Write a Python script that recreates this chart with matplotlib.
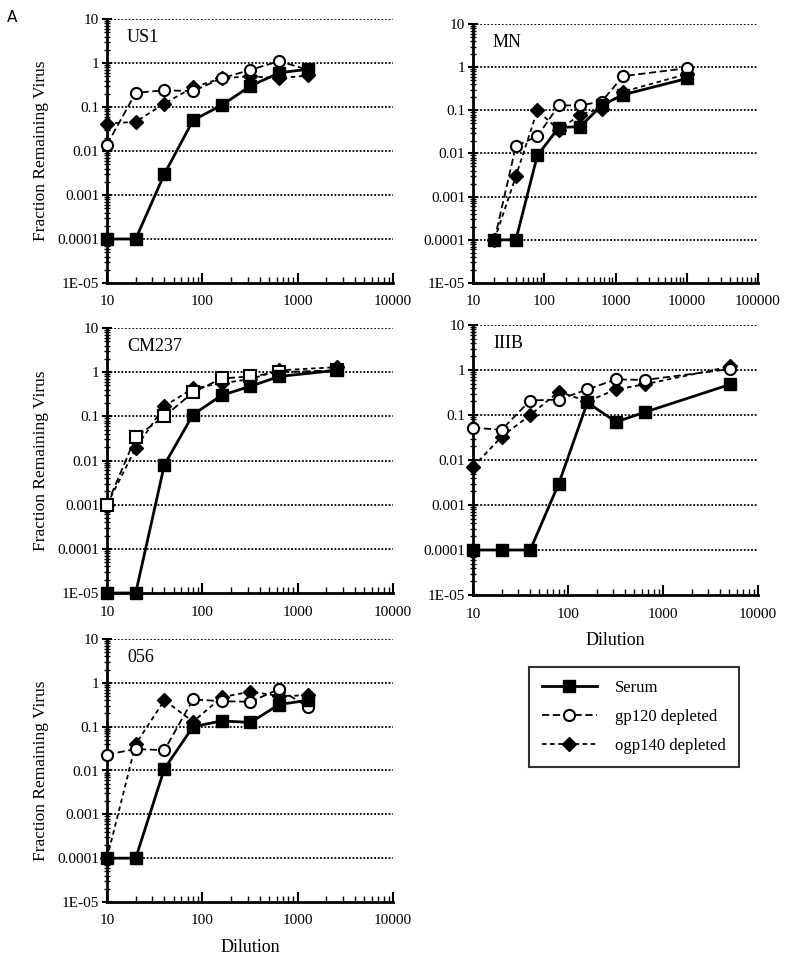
import numpy as np
import matplotlib.pyplot as plt
from matplotlib.ticker import FixedLocator, LogLocator, NullFormatter

plt.rcParams['font.family'] = ['Liberation Serif', 'DejaVu Serif']

# Datos por panel (dilucion, serum, gp120 depleted, ogp140 depleted)
us1_x = [10, 20, 40, 80, 160, 320, 640, 1280]
us1_serum = [1e-4, 1e-4, 0.003, 0.05, 0.11, 0.3, 0.6, 0.72]
us1_gp120 = [0.014, 0.21, 0.24, 0.23, 0.45, 0.7, 1.1, 0.7]
us1_ogp140 = [0.042, 0.046, 0.12, 0.28, 0.45, 0.5, 0.45, 0.52]

mn_x = [20, 40, 80, 160, 320, 640, 1280, 10240]
mn_serum = [1e-4, 1e-4, 0.009, 0.04, 0.042, 0.13, 0.23, 0.55]
mn_gp120 = [1e-4, 0.015, 0.025, 0.13, 0.13, 0.16, 0.62, 0.95]
mn_ogp140 = [1e-4, 0.003, 0.1, 0.035, 0.08, 0.11, 0.27, 0.7]

cm_x = [10, 20, 40, 80, 160, 320, 640, 2560]
cm_serum = [1e-5, 1e-5, 0.008, 0.11, 0.3, 0.48, 0.8, 1.1]
cm_gp120 = [0.001, 0.034, 0.1, 0.35, 0.72, 0.8, 1.0, 1.1]
cm_ogp140 = [0.001, 0.019, 0.17, 0.43, 0.56, 0.7, 1.1, 1.3]

iiib_x = [10, 20, 40, 80, 160, 320, 640, 5120]
iiib_serum = [1e-4, 1e-4, 1e-4, 0.003, 0.19, 0.07, 0.115, 0.48]
iiib_gp120 = [0.052, 0.047, 0.21, 0.22, 0.37, 0.62, 0.6, 1.05]
iiib_ogp140 = [0.007, 0.033, 0.1, 0.33, 0.2, 0.37, 0.48, 1.2]

s056_x = [10, 20, 40, 80, 160, 320, 640, 1280]
s056_serum = [1e-4, 1e-4, 0.011, 0.1, 0.135, 0.125, 0.32, 0.4]
s056_gp120 = [0.023, 0.031, 0.029, 0.42, 0.38, 0.37, 0.72, 0.28]
s056_ogp140 = [1e-4, 0.04, 0.4, 0.13, 0.47, 0.63, 0.5, 0.52]

y_ticks = [1e-5, 1e-4, 1e-3, 1e-2, 1e-1, 1, 10]
y_labels = ['1E-05', '0.0001', '0.001', '0.01', '0.1', '1', '10']

W, H = 789, 961
fig = plt.figure(figsize=(W / 100, H / 100), dpi=100)


def box(l, r, t, b):
    return [l / W, 1 - b / H, (r - l) / W, (b - t) / H]


paneles = [
    ('US1', box(107, 393, 19, 283), us1_x, us1_serum, us1_gp120, us1_ogp140, 1e4, 'o', True, False),
    ('MN', box(473, 758, 24, 283), mn_x, mn_serum, mn_gp120, mn_ogp140, 1e5, 'o', False, False),
    ('CM237', box(107, 393, 328, 593), cm_x, cm_serum, cm_gp120, cm_ogp140, 1e4, 's', True, False),
    ('IIIB', box(473, 758, 325, 595), iiib_x, iiib_serum, iiib_gp120, iiib_ogp140, 1e4, 'o', False, True),
    ('056', box(107, 393, 639, 902), s056_x, s056_serum, s056_gp120, s056_ogp140, 1e4, 'o', True, True),
]

handles = None
for nombre, pos, x, serum, gp120, ogp140, xmax, mk, ylab, xlab in paneles:
    ax = fig.add_axes(pos)
    ax.set_xscale('log')
    ax.set_yscale('log')
    ax.set_xlim(10, xmax)
    ax.set_ylim(1e-5, 10)

    h3, = ax.plot(x, ogp140, linestyle=(0, (2.5, 2)), color='black', lw=1.3,
                  marker='D', markersize=7, markerfacecolor='black', clip_on=False, zorder=3)
    h2, = ax.plot(x, gp120, linestyle=(0, (4, 2)), color='black', lw=1.3,
                  marker=mk, markersize=8, markerfacecolor='white', markeredgewidth=1.5,
                  clip_on=False, zorder=4)
    h1, = ax.plot(x, serum, linestyle='-', color='black', lw=2,
                  marker='s', markersize=8, markerfacecolor='black', clip_on=False, zorder=5)
    if handles is None:
        handles = [h1, h2, h3]

    for yt in y_ticks[1:]:
        ax.axhline(yt, color='black', lw=1.3, linestyle=(0, (1, 1)), zorder=1)

    ax.spines['top'].set_visible(False)
    ax.spines['right'].set_visible(False)
    ax.spines['left'].set_linewidth(2)
    ax.spines['bottom'].set_linewidth(2)

    ax.yaxis.set_major_locator(FixedLocator(y_ticks))
    ax.set_yticklabels(y_labels)
    ax.yaxis.set_minor_locator(LogLocator(base=10, subs=np.arange(2, 10), numticks=20))
    ax.yaxis.set_minor_formatter(NullFormatter())
    ax.tick_params(axis='y', which='major', direction='inout', length=7, width=1.5, labelsize=11, pad=2)
    ax.tick_params(axis='y', which='minor', direction='inout', length=4, width=1)

    xt = [10 ** k for k in range(1, int(np.log10(xmax)) + 1)]
    ax.xaxis.set_major_locator(FixedLocator(xt))
    ax.set_xticklabels([str(v) for v in xt])
    ax.xaxis.set_minor_locator(LogLocator(base=10, subs=np.arange(2, 10), numticks=20))
    ax.xaxis.set_minor_formatter(NullFormatter())
    ax.tick_params(axis='x', which='major', direction='in', length=7, width=1.5, labelsize=11, pad=9)
    ax.tick_params(axis='x', which='minor', direction='in', length=4, width=1)

    ax.text(0.07, 0.93, nombre, transform=ax.transAxes, fontsize=13, va='center', ha='left')

    if ylab:
        ax.set_ylabel('Fraction Remaining Virus', fontsize=12.5, labelpad=6)
    if xlab:
        ax.set_xlabel('Dilution', fontsize=13, labelpad=8)

fig.text(12 / W, 1 - 18 / H, 'A', fontsize=11, family='DejaVu Sans', va='center', ha='center')

leg = fig.legend(handles, ['Serum', 'gp120 depleted', 'ogp140 depleted'],
                 loc='center', bbox_to_anchor=(634 / W, 1 - 717 / H),
                 fontsize=12, frameon=True, fancybox=False, handlelength=3.3,
                 borderpad=0.75, labelspacing=0.8, handletextpad=1.1, borderaxespad=0)
leg.get_frame().set_edgecolor('black')
leg.get_frame().set_linewidth(1.5)

fig.savefig('out.png', dpi=100)
